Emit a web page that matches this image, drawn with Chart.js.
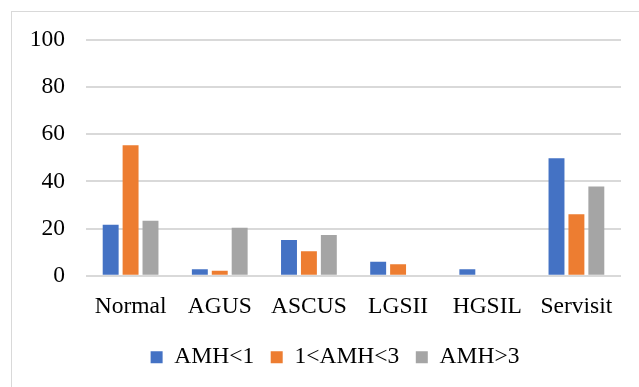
<!DOCTYPE html>
<html>
<head>
<meta charset="utf-8">
<script src="https://cdn.jsdelivr.net/npm/chart.js@4"></script>
<style>
  body { margin: 0; background: #fff; overflow: hidden; }
  .frame {
    position: absolute; left: 11px; top: 11px; width: 700px; height: 500px;
    border: 1px solid #d9d9d9; box-sizing: border-box;
  }
  .chart { position: absolute; left: 11px; top: 12px; width: 628px; height: 375px; }
</style>
</head>
<body>
<div class="frame"></div>
<div class="chart"><canvas id="c"></canvas></div>
<script>
const categories = ['Normal', 'AGUS', 'ASCUS', 'LGSII', 'HGSIL', 'Servisit'];
const amhLow = [21.7, 2.8, 15.2, 6.0, 2.8, 49.8];
const amhMid = [55.4, 2.1, 10.4, 4.9, 0, 26.1];
const amhHigh = [23.3, 20.4, 17.3, 0, 0, 37.9];
const yTicks = [0, 20, 40, 60, 80, 100];

const serif = 'Liberation Serif, Times New Roman, serif';

// legend in the original sits a bit right of the canvas centre
const shiftLegend = {
  id: 'shiftLegend',
  afterLayout(chart) {
    chart.legend.left += 38;
    chart.legend.width -= 38;
  }
};

new Chart(document.getElementById('c'), {
  type: 'bar',
  data: {
    labels: categories,
    datasets: [
      { label: 'AMH<1', data: amhLow, backgroundColor: '#4472C4' },
      { label: '1<AMH<3', data: amhMid, backgroundColor: '#ED7D31' },
      { label: 'AMH>3', data: amhHigh, backgroundColor: '#A5A5A5' }
    ]
  },
  plugins: [shiftLegend],
  options: {
    animation: false,
    responsive: true,
    maintainAspectRatio: false,
    datasets: { bar: { categoryPercentage: 0.67, barPercentage: 0.8 } },
    layout: { padding: { top: 28, right: 18, left: 0, bottom: 8 } },
    plugins: {
      legend: {
        position: 'bottom',
        labels: {
          font: { family: serif, size: 23.5 },
          color: '#000',
          boxWidth: 12, boxHeight: 12,
          padding: 16.5
        }
      },
      tooltip: { enabled: false }
    },
    scales: {
      x: {
        grid: { display: false },
        border: { display: false },
        afterFit: (s) => { s.height -= 1; },
        ticks: { font: { family: serif, size: 23.5 }, color: '#000', padding: 9 }
      },
      y: {
        min: 0, max: 100,
        afterFit: (s) => { s.width = 75; s.paddingTop = 0; s.paddingBottom = 0; },
        afterBuildTicks: (s) => { s.ticks = yTicks.map(v => ({ value: v })); },
        grid: { color: '#d9d9d9', lineWidth: 2, drawTicks: false },
        border: { display: false },
        ticks: { font: { family: serif, size: 23.5 }, color: '#000', padding: 21 }
      }
    }
  }
});
</script>
</body>
</html>
